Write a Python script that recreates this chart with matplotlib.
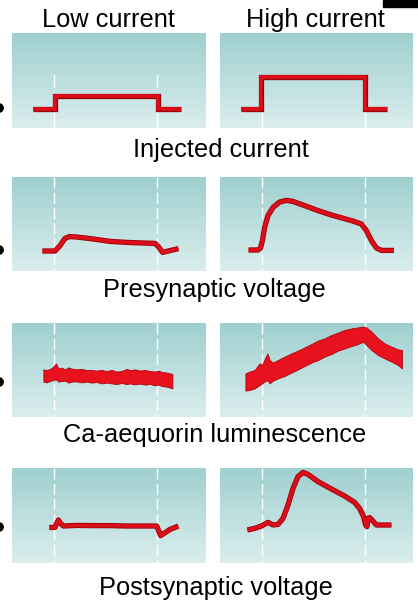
import matplotlib
matplotlib.use('Agg')
import matplotlib.pyplot as plt
import matplotlib.patheffects as pe
from matplotlib.colors import LinearSegmentedColormap
import numpy as np

plt.rcParams['font.family'] = ['Liberation Sans', 'DejaVu Sans']

# Trazos: tiempo (ms, escala de panel 0-97) y amplitud (unidades arbitrarias 0-47)
columnas = ['Low current', 'High current']
filas = ['Injected current', 'Presynaptic voltage',
         'Ca-aequorin luminescence', 'Postsynaptic voltage']
estimulo = [21.0, 72.5]   # inicio y fin del pulso

# Corriente inyectada (escalon)
cur_t_low = [10.7, 21.5, 21.5, 72.8, 72.8, 84.3]
cur_v_low = [9.3, 9.3, 16.2, 16.2, 9.3, 9.3]
cur_t_high = [10.3, 20.7, 20.7, 72.3, 72.3, 83.7]
cur_v_high = [9.3, 9.3, 25.7, 25.7, 9.3, 9.3]

# Voltaje presinaptico
pre_t_low = [15.2, 21.5, 24.0, 26.5, 28.7, 32.3, 40.7, 49.0, 57.3, 65.7,
             71.5, 73.2, 75.3, 79.0, 83.2]
pre_v_low = [10.0, 10.0, 12.7, 16.3, 17.2, 17.0, 16.0, 14.8, 14.3, 14.0,
             13.8, 12.2, 9.3, 10.2, 11.2]
pre_t_high = [14.3, 19.0, 20.3, 21.2, 22.3, 24.0, 26.5, 29.8, 33.2, 36.5,
              42.3, 49.0, 55.7, 65.7, 70.7, 73.2, 75.7, 78.2, 80.7, 87.0]
pre_v_high = [10.5, 10.5, 11.5, 15.2, 21.8, 27.7, 31.8, 34.5, 35.3, 34.8,
              32.7, 30.2, 28.0, 25.2, 23.5, 20.2, 15.2, 11.5, 10.3, 10.3]

# Luminiscencia Ca-aequorina (bordes superior e inferior de la banda)
lum_t_low = [15.7, 17.3, 19.0, 20.7, 22.0, 23.2, 24.8, 26.5, 28.2, 29.8,
             32.3, 34.8, 37.3, 39.8, 42.3, 44.8, 47.3, 49.8, 52.3, 54.8,
             57.3, 59.0, 61.5, 64.0, 66.5, 69.0, 71.5, 73.2, 74.8, 77.3,
             79.0, 80.2]
lum_sup_low = [23.8, 23.5, 24.0, 25.2, 26.8, 24.3, 24.7, 23.8, 24.8, 24.2,
               23.8, 24.0, 23.5, 23.5, 23.2, 23.5, 23.0, 23.5, 22.7, 23.0,
               24.0, 23.5, 23.8, 23.2, 23.5, 23.0, 22.7, 23.2, 22.5, 22.2,
               21.8, 21.5]
lum_inf_low = [17.7, 17.3, 18.0, 18.5, 18.8, 17.7, 18.0, 18.2, 17.2, 17.7,
               17.8, 17.3, 17.7, 17.2, 17.5, 16.8, 17.2, 16.8, 16.5, 17.0,
               16.5, 16.8, 16.3, 16.7, 16.2, 16.5, 15.8, 16.2, 15.5, 15.2,
               14.7, 14.3]
lum_t_high = [12.7, 14.8, 17.3, 19.8, 21.0, 22.3, 23.7, 24.8, 26.5, 29.0,
              32.3, 35.7, 39.0, 42.3, 45.7, 49.0, 52.3, 55.7, 59.0, 62.3,
              65.7, 69.0, 71.5, 73.2, 75.7, 79.0, 82.3, 85.7, 89.0, 91.0]
lum_sup_high = [21.8, 22.7, 23.5, 26.8, 26.0, 28.8, 31.8, 28.5, 27.2, 28.5,
                30.2, 31.8, 33.2, 34.8, 36.5, 38.2, 39.3, 41.0, 42.2, 43.5,
                44.3, 44.8, 45.2, 44.8, 42.7, 39.3, 36.8, 35.2, 33.8, 33.5]
lum_inf_high = [13.2, 13.5, 14.3, 16.0, 16.8, 17.7, 18.5, 16.8, 18.2, 19.3,
                20.5, 22.2, 23.8, 25.5, 27.2, 28.5, 30.2, 31.5, 33.2, 34.3,
                35.5, 36.5, 37.7, 36.0, 33.5, 31.0, 29.3, 27.7, 26.0, 24.3]

# Voltaje postsinaptico
post_t_low = [18.7, 21.5, 22.3, 23.2, 24.3, 25.7, 32.3, 40.7, 49.0, 57.3,
              65.7, 72.3, 73.2, 74.3, 76.0, 79.0, 83.2]
post_v_low = [17.8, 17.8, 19.8, 21.5, 19.8, 18.5, 18.8, 18.7, 18.7, 18.5,
              18.5, 18.5, 16.5, 13.7, 14.8, 16.8, 18.5]
post_t_high = [13.7, 17.3, 20.7, 24.0, 26.5, 29.0, 31.5, 34.0, 36.5, 39.0,
               41.5, 44.0, 49.0, 55.7, 62.3, 67.3, 69.8, 71.8, 72.8, 73.5,
               74.0, 74.8, 76.0, 78.2, 85.7]
post_v_high = [16.5, 17.3, 18.5, 20.3, 19.0, 19.3, 22.3, 29.0, 37.3, 43.2,
               45.3, 44.3, 40.7, 37.0, 33.5, 30.3, 27.3, 23.2, 19.0, 18.2,
               22.3, 22.7, 21.5, 19.0, 19.0]

# Geometria de la figura (pixeles)
W, H = 418, 606
fig = plt.figure(figsize=(W / 100, H / 100), dpi=100)
fig.patch.set_facecolor('white')

col_x = [(12, 194), (220, 193)]
fila_y = [(33, 95), (177, 94), (323, 94), (468, 95)]

fondo = LinearSegmentedColormap.from_list('fondo', ['#dbeeee', '#9fcfcf'])
rojo = '#dc0e1a'
borde = '#980008'


def panel(x0, w, y0, h):
    ax = fig.add_axes([x0 / W, 1 - (y0 + h) / H, w / W, h / H])
    ax.set_xlim(0, w / 2)
    ax.set_ylim(0, h / 2)
    grad = np.linspace(0, 1, 256).reshape(-1, 1)
    ax.imshow(grad, cmap=fondo, aspect='auto', origin='lower',
              extent=[0, w / 2, 0, h / 2], zorder=0)
    ax.axis('off')
    return ax


def traza(ax, t, v, join='round'):
    ax.plot(t, v, color=rojo, lw=2.6, solid_capstyle='butt',
            solid_joinstyle=join, zorder=3,
            path_effects=[pe.Stroke(linewidth=3.8, foreground=borde),
                          pe.Normal()])


def guias(ax, h):
    for t in estimulo:
        ax.plot([t, t], [h / 2, 0], color='white', lw=1.0,
                ls=(0, (8, 3)), zorder=1)


ejes = [[panel(x0, w, y0, h) for (x0, w) in col_x] for (y0, h) in fila_y]

# Fila 1: corriente inyectada
a, b = ejes[0]
for t in estimulo:
    a.plot([t, t], [0, 8.2], color='white', lw=1.0, zorder=1)
    a.plot([t, t], [20.7, 26.5], color='white', lw=1.0, zorder=1)
    b.plot([t, t], [0, 8.0], color='white', lw=1.0, zorder=1)
traza(a, cur_t_low, cur_v_low, join='miter')
traza(b, cur_t_high, cur_v_high, join='miter')

# Fila 2: voltaje presinaptico
a, b = ejes[1]
guias(a, 94)
guias(b, 94)
traza(a, pre_t_low, pre_v_low)
traza(b, pre_t_high, pre_v_high)

# Fila 3: luminiscencia
a, b = ejes[2]
guias(a, 94)
guias(b, 94)
for ax, t, lo, hi in [(a, lum_t_low, lum_inf_low, lum_sup_low),
                      (b, lum_t_high, lum_inf_high, lum_sup_high)]:
    ax.fill_between(t, lo, hi, color='#e8121e', edgecolor='#b0000c',
                    lw=0.6, zorder=3)

# Fila 4: voltaje postsinaptico
a, b = ejes[3]
guias(a, 95)
guias(b, 95)
traza(a, post_t_low, post_v_low)
traza(b, post_t_high, post_v_high)

# Capa de textos y marcas en pixeles
lienzo = fig.add_axes([0, 0, 1, 1], zorder=10)
lienzo.set_xlim(0, W)
lienzo.set_ylim(H, 0)
lienzo.axis('off')

lienzo.text(108, 27, columnas[0], ha='center', va='baseline', fontsize=18.3)
lienzo.text(315, 27, columnas[1], ha='center', va='baseline', fontsize=18.3)

base_fila = [157, 297, 442, 595]
centro_fila = [221, 214, 215, 216]
for texto, xc, yb in zip(filas, centro_fila, base_fila):
    lienzo.text(xc, yb, texto, ha='center', va='baseline', fontsize=18.3)

# Puntos a la izquierda y recuadro negro superior
for yp in [108, 250, 382, 527]:
    lienzo.add_patch(plt.Circle((-1, yp), 4.2, color='black', clip_on=False))
lienzo.add_patch(plt.Rectangle((383, 0), 35, 7, color='black'))

fig.savefig('out.png', dpi=100)
